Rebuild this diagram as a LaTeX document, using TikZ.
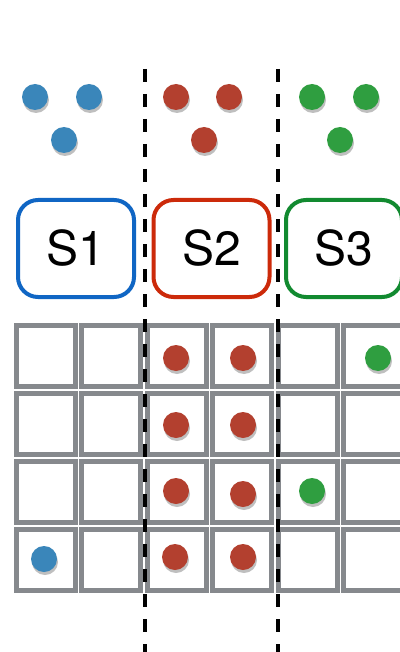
\documentclass[tikz,border=0pt]{standalone}
\usepackage{fontspec}
\setsansfont{TeX Gyre Heros}
\usetikzlibrary{shadows}
\definecolor{dblue}{HTML}{3A86BA}
\definecolor{dred}{HTML}{B3402F}
\definecolor{dgreen}{HTML}{2F9E40}
\definecolor{bblue}{HTML}{1066C4}
\definecolor{bred}{HTML}{CC2A0A}
\definecolor{bgreen}{HTML}{128A30}
\definecolor{cellgray}{HTML}{86898D}
\begin{document}
\begin{tikzpicture}[x=1pt,y=-1pt,
  dot/.style={circle,inner sep=0pt,minimum size=26pt,fill=#1,
    drop shadow={shadow xshift=1pt,shadow yshift=-3pt,opacity=0.25,fill=black}},
  sbox/.style={draw=#1,line width=4pt,rounded corners=20pt,fill=white,
    minimum width=116pt,minimum height=97pt,inner sep=0pt,
    font=\sffamily\fontsize{48}{48}\selectfont},
  cellbox/.style={draw=cellgray,line width=5pt,fill=white,
    minimum width=59pt,minimum height=61pt,inner sep=0pt},
  divider/.style={line width=4.8pt,dash pattern=on 13pt off 12pt,black}]
\useasboundingbox (0,0) rectangle (399,652);
% grid cells
\foreach \c in {0,...,5}{
  \foreach \r in {0,...,3}{
    \node[cellbox] (c\c\r) at ({14+65.4*\c+32},{323+68*\r+33}) {};
  }
}
% top dots
\node[dot=dblue] (b1) at (35,97) {};
\node[dot=dblue] (b2) at (89,97) {};
\node[dot=dblue] (b3) at (64,140) {};
\node[dot=dred] (r1) at (176,97) {};
\node[dot=dred] (r2) at (229,97) {};
\node[dot=dred] (r3) at (204,140) {};
\node[dot=dgreen] (g1) at (312,97) {};
\node[dot=dgreen] (g2) at (366,97) {};
\node[dot=dgreen] (g3) at (340,140) {};
% server boxes
\node[sbox=bblue] (s1) at (76,248.5) {\raisebox{-3pt}{S1}};
\node[sbox=bred] (s2) at (211.5,248.5) {\raisebox{-3pt}{S2}};
\node[sbox=bgreen] (s3) at (344,248.5) {\raisebox{-3pt}{S3}};
% grid dots
\node[dot=dred] (d1) at (176,358) {};
\node[dot=dred] (d2) at (243,358) {};
\node[dot=dgreen] (d3) at (378,358) {};
\node[dot=dred] (d4) at (176,425) {};
\node[dot=dred] (d5) at (243,425) {};
\node[dot=dred] (d6) at (176,491) {};
\node[dot=dred] (d7) at (243,494) {};
\node[dot=dgreen] (d8) at (312,491) {};
\node[dot=dblue] (d9) at (44,559) {};
\node[dot=dred] (d10) at (175,557) {};
\node[dot=dred] (d11) at (243,557) {};
% dividers
\coordinate (t1) at (145,69);
\coordinate (e1) at (145,652);
\coordinate (t2) at (278,69);
\coordinate (e2) at (278,652);
\draw[divider] (t1) -- (e1);
\draw[divider] (t2) -- (e2);
\end{tikzpicture}
\end{document}
